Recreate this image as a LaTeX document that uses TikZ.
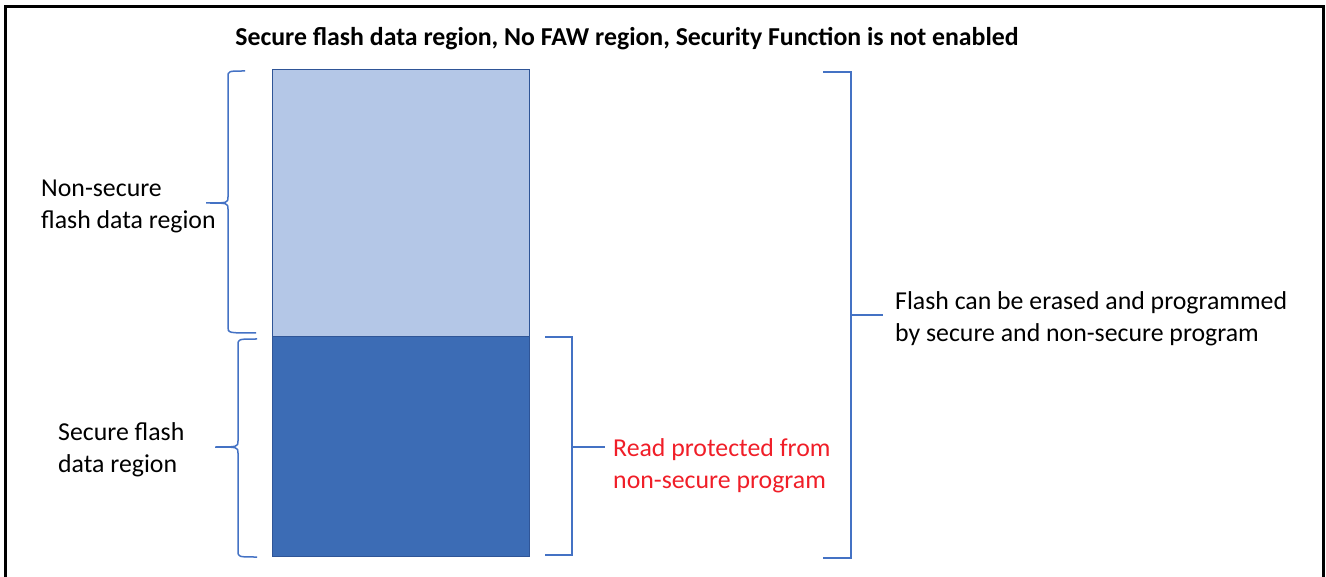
\documentclass[tikz,border=0pt]{standalone}
\usepackage{fontspec}
\setmainfont{Carlito}
\definecolor{lightblk}{HTML}{B4C7E7}
\definecolor{darkblk}{HTML}{3C6CB5}
\definecolor{edgeblue}{HTML}{2F5597}
\definecolor{bracecol}{HTML}{4472C4}
\definecolor{redtxt}{HTML}{F01E28}
\tikzset{
  block/.style={draw=edgeblue, line width=1pt},
  bracket/.style={draw=bracecol, line width=1.5pt},
  lbl/.style={anchor=west, inner sep=0pt, align=left, font=\fontsize{25.8}{32}\selectfont},
}
\begin{document}
\begin{tikzpicture}[x=1pt,y=-1pt]
\useasboundingbox (0,0) rectangle (1326,577);
% frame
\draw[line width=3pt] (5,578) -- (5,7) -- (1323.5,7) -- (1323.5,578);
% title
\node[inner sep=0pt, font=\fontsize{25.8}{30}\selectfont\bfseries] (title) at (627,39) {Secure flash data region, No FAW region, Security Function is not enabled};
% blocks
\node[block, fill=lightblk, minimum width=257pt, minimum height=267pt, inner sep=0pt, anchor=north west] (ns) at (272,69) {};
\node[block, fill=darkblk, minimum width=257pt, minimum height=220pt, inner sep=0pt, anchor=north west] (sec) at (272,336) {};
% left braces
\draw[bracket] (245,71) .. controls (228,71) .. (228,77) -- (228,197) .. controls (228,203) .. (206,203)
  .. controls (228,203) .. (228,209) -- (228,327) .. controls (228,333) .. (256,333);
\draw[bracket] (257,339) .. controls (238,339) .. (238,345) -- (238,441) .. controls (238,447) .. (215,447)
  .. controls (238,447) .. (238,453) -- (238,551) .. controls (238,557) .. (257,557);
% left labels
\node[lbl] (nslbl) at (41,206) {Non-secure\\flash data region};
\node[lbl] (seclbl) at (58,450) {Secure flash\\data region};
% right bracket 1
\coordinate (b1t) at (545,337);
\coordinate (b1b) at (545,555);
\coordinate (b1m) at (605,447);
\draw[bracket] (b1t) -- (572,337) -- (572,555) -- (b1b);
\draw[bracket] (572,447) -- (b1m);
\node[lbl, text=redtxt] (rp) at (613,466) {Read protected from\\non-secure program};
% right bracket 2
\coordinate (b2t) at (823,72);
\coordinate (b2b) at (823,558);
\coordinate (b2m) at (883,315);
\draw[bracket] (b2t) -- (851,72) -- (851,558) -- (b2b);
\draw[bracket] (851,315) -- (b2m);
\node[lbl] (fl) at (895,319) {Flash can be erased and programmed\\by secure and non-secure program};
\end{tikzpicture}
\end{document}
